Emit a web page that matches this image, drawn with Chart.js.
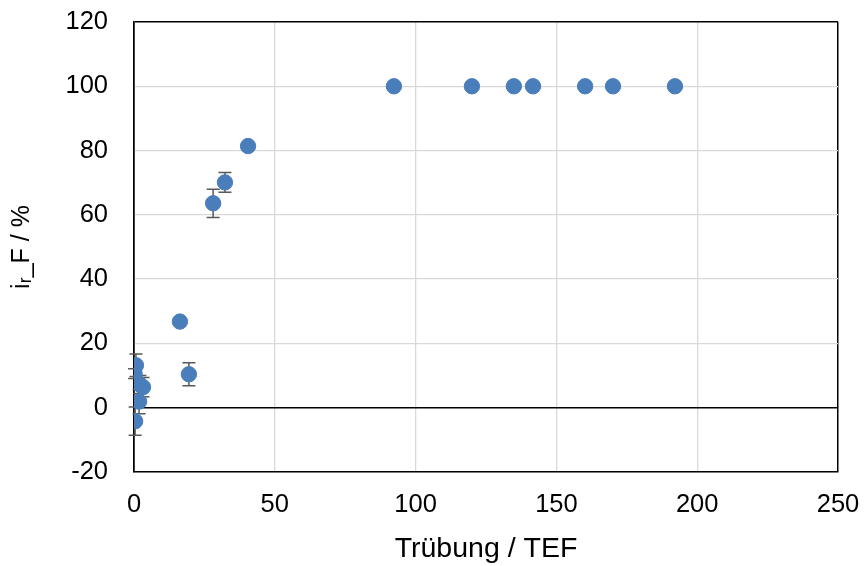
<!DOCTYPE html>
<html><head><meta charset="utf-8">
<script src="https://cdn.jsdelivr.net/npm/chart.js@4/dist/chart.umd.min.js"></script>
<style>html,body{margin:0;padding:0;background:#fff}#wrap{width:866px;height:566px}</style>
</head><body><div id="wrap"><canvas id="c" width="866" height="566"></canvas></div>
<script>
const xValues = [0.7, 0.2, 2.1, 3.2, 1.8, 0.4, 16.3, 19.5, 28.1, 32.3, 40.5, 92.3, 120.0, 134.9, 141.7, 160.2, 170.1, 192.1];
const yValues = [13.2, 10.6, 7.2, 6.4, 1.9, -4.2, 26.8, 10.4, 63.6, 70.1, 81.4, 100, 100, 100, 100, 100, 100, 100];
const yErrors = [3.5, 1.5, 2.8, 3.0, 3.8, 4.4, 0, 3.6, 4.4, 3.1, 0, 0, 0, 0, 0, 0, 0, 0];
const xTicks = [0, 50, 100, 150, 200, 250];
const yTicks = [-20, 0, 20, 40, 60, 80, 100, 120];
const xTitle = 'Trübung / TEF';
const yTitle = 'iᵣ_F / %';

const points = xValues.map((x, i) => ({x: x, y: yValues[i], e: yErrors[i]}));
const fam = "'Liberation Sans', Arial, sans-serif";
const tickFont = {family: fam, size: 25.5};

const errorBars = {
  id: 'errorBars',
  beforeDatasetsDraw(chart) {
    const ctx = chart.ctx, xs = chart.scales.x, ys = chart.scales.y;
    ctx.save();
    ctx.strokeStyle = '#595959';
    ctx.lineWidth = 1.5;
    points.forEach(p => {
      if (!p.e) return;
      const px = xs.getPixelForValue(p.x);
      const y1 = ys.getPixelForValue(p.y + p.e), y2 = ys.getPixelForValue(p.y - p.e);
      ctx.beginPath();
      ctx.moveTo(px, y1); ctx.lineTo(px, y2);
      ctx.moveTo(px - 6.5, y1); ctx.lineTo(px + 6.5, y1);
      ctx.moveTo(px - 6.5, y2); ctx.lineTo(px + 6.5, y2);
      ctx.stroke();
    });
    ctx.restore();
  }
};

const xEdge = v => v === 0 || v === 250;
const yEdge = v => v === 0 || v === 120;

new Chart(document.getElementById('c'), {
  type: 'scatter',
  data: {datasets: [{data: points, backgroundColor: '#4a7ebb', borderColor: '#4a7ebb', pointRadius: 7.7, pointHoverRadius: 7.7}]},
  plugins: [errorBars],
  options: {
    responsive: false, animation: false,
    plugins: {legend: {display: false}, tooltip: {enabled: false}},
    layout: {padding: {top: 22, right: 28, left: 0, bottom: 0}},
    scales: {
      x: {
        type: 'linear', min: 0, max: 250,
        afterBuildTicks: s => { s.ticks = xTicks.map(v => ({value: v})); },
        afterFit: s => { s.height = 94; s.paddingLeft = 0; s.paddingRight = 0; },
        ticks: {font: tickFont, color: '#000', padding: 18, maxRotation: 0},
        grid: {drawTicks: false, lineWidth: c => c.tick && xEdge(c.tick.value) ? 1.5 : 1.3, color: c => c.tick && xEdge(c.tick.value) ? '#000' : '#d9d9d9'},
        border: {display: true, color: '#000', width: 1.5},
        title: {display: true, text: xTitle, font: {family: fam, size: 28.5}, color: '#000', padding: {top: 1, bottom: 0}}
      },
      y: {
        type: 'linear', min: -20, max: 120,
        afterBuildTicks: s => { s.ticks = yTicks.map(v => ({value: v})); },
        afterFit: s => { s.width = 134; s.paddingTop = 0; s.paddingBottom = 0; },
        ticks: {font: tickFont, color: '#000', padding: 26},
        grid: {drawTicks: false, lineWidth: c => c.tick && yEdge(c.tick.value) ? 1.5 : 1.3, color: c => c.tick && yEdge(c.tick.value) ? '#000' : '#d9d9d9'},
        border: {display: true, color: '#000', width: 1.5},
        title: {display: true, text: yTitle, font: {family: fam, size: 25}, color: '#000', padding: {top: 7, bottom: 0}}
      }
    }
  }
});
</script></body></html>
